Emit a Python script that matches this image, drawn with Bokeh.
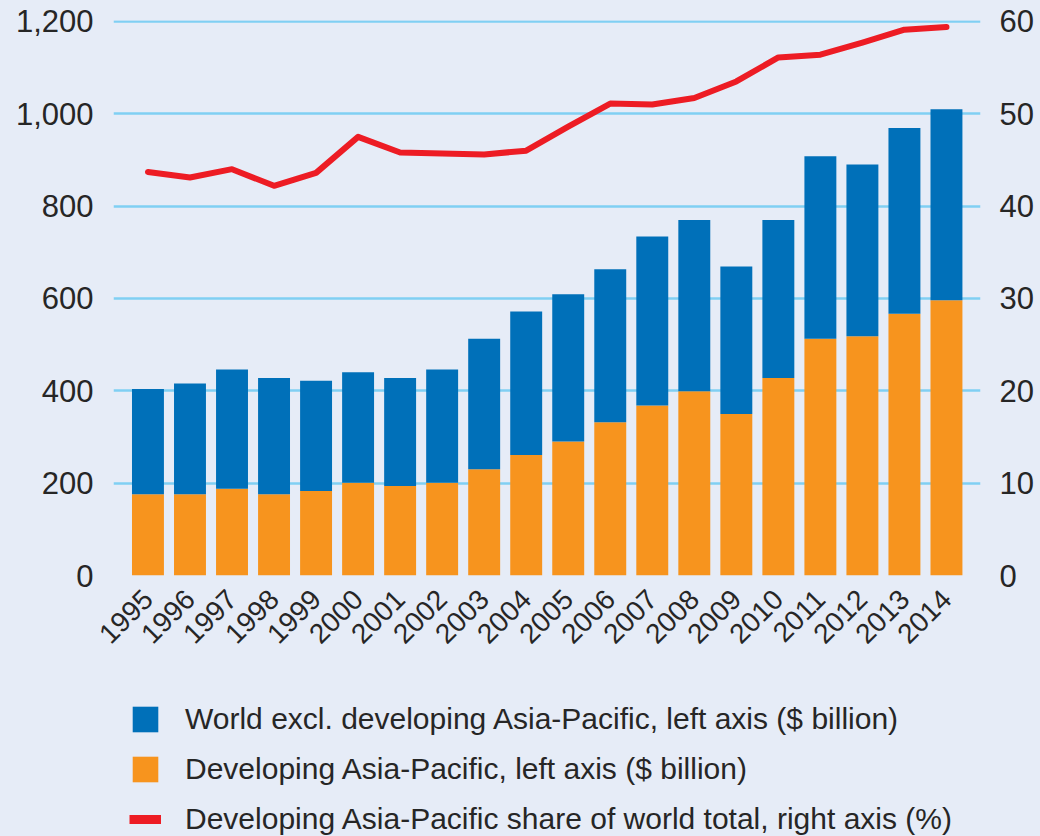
import math
from bokeh.plotting import figure
from bokeh.layouts import column
from bokeh.models import (ColumnDataSource, Range1d, LinearAxis, FixedTicker,
                          NumeralTickFormatter, Legend, LegendItem)
from bokeh.embed import file_html
from bokeh.resources import INLINE

# ---- data ----
years = [1995, 1996, 1997, 1998, 1999, 2000, 2001, 2002, 2003, 2004,
         2005, 2006, 2007, 2008, 2009, 2010, 2011, 2012, 2013, 2014]
year_labels = [str(y) for y in years]
developing = [176, 176, 188, 176, 183, 201, 194, 201, 230, 261,
              290, 332, 368, 399, 350, 428, 513, 518, 567, 596]
world_excl = [228, 240, 258, 252, 239, 239, 234, 245, 283, 311,
              319, 331, 366, 371, 319, 342, 395, 372, 402, 414]
share = [43.7, 43.1, 44.0, 42.2, 43.6, 47.5, 45.8, 45.7, 45.6, 46.0,
         48.6, 51.1, 51.0, 51.7, 53.5, 56.1, 56.4, 57.7, 59.1, 59.4]
left_ticks = [0, 200, 400, 600, 800, 1000, 1200]
right_ticks = [0, 10, 20, 30, 40, 50, 60]
series_labels = ["World excl. developing Asia-Pacific, left axis ($ billion)",
                 "Developing Asia-Pacific, left axis ($ billion)",
                 "Developing Asia-Pacific share of world total, right axis (%)"]

FONT = "Liberation Sans"
TEXT = "#262626"
BG = "#e6ecf7"
GRID = "#80cff3"
BLUE = "#0070b9"
ORANGE = "#f7941e"
RED = "#ed1c24"

src = ColumnDataSource(dict(year=years, developing=developing,
                            world_excl=world_excl, share=share))

# ---- main chart ----
p = figure(width=1040, height=686, output_backend="svg", toolbar_location=None,
           x_range=Range1d(1994.18, 2014.81), y_range=Range1d(0, 1202),
           min_border_left=113, min_border_right=60, min_border_top=20,
           min_border_bottom=111, background_fill_color=BG,
           border_fill_color=BG, outline_line_color=None)
p.extra_y_ranges = {"share": Range1d(0, 60.1)}

bars = p.vbar_stack(["developing", "world_excl"], x="year", width=0.76,
                    color=[ORANGE, BLUE], line_color=None, source=src)
line = p.line(x="year", y="share", source=src, y_range_name="share",
              line_color=RED, line_width=6, line_join="round", line_cap="round")

p.yaxis.ticker = FixedTicker(ticks=left_ticks)
p.yaxis.formatter = NumeralTickFormatter(format="0,0")
right = LinearAxis(y_range_name="share", ticker=FixedTicker(ticks=right_ticks))
p.add_layout(right, "right")
p.xaxis.ticker = FixedTicker(ticks=years)
p.xaxis.major_label_overrides = {y: s for y, s in zip(years, year_labels)}
p.xaxis.major_label_orientation = math.pi / 4

for ax in [p.yaxis[0], right, p.xaxis[0]]:
    ax.axis_line_color = None
    ax.major_tick_line_color = None
    ax.minor_tick_line_color = None
    ax.major_tick_out = 0
    ax.major_tick_in = 0
    ax.minor_tick_out = 0
    ax.minor_tick_in = 0
    ax.axis_label_standoff = 0
    ax.major_label_text_font = FONT
    ax.major_label_text_font_size = "31px"
    ax.major_label_text_color = TEXT
p.yaxis[0].major_label_standoff = 20
right.major_label_standoff = 19
p.xaxis[0].major_label_standoff = 19
p.xaxis[0].major_label_text_font_size = "28px"

p.xgrid.grid_line_color = None
p.ygrid.grid_line_color = GRID
p.ygrid.grid_line_width = 2.5

# ---- legend strip below the chart ----
# Its y range lies above all data values, so the series drawn here fall
# below the strip's frame and are clipped; only the legend swatches show.
lg = figure(width=1040, height=150, output_backend="svg", toolbar_location=None,
            x_range=Range1d(1994.18, 2014.81), y_range=Range1d(1300, 2500),
            min_border_left=113, min_border_right=60, min_border_top=0,
            min_border_bottom=0, background_fill_color=BG,
            border_fill_color=BG, outline_line_color=None)
lg.axis.visible = False
lg.grid.visible = False
sw_blue = lg.vbar(x="year", top="world_excl", width=0.76, color=BLUE,
                  line_color=None, source=src)
sw_orange = lg.vbar(x="year", top="developing", width=0.76, color=ORANGE,
                    line_color=None, source=src)
sw_red = lg.line(x="year", y="share", line_color=RED, line_width=9, source=src)

legend = Legend(items=[LegendItem(label=series_labels[0], renderers=[sw_blue]),
                       LegendItem(label=series_labels[1], renderers=[sw_orange]),
                       LegendItem(label=series_labels[2], renderers=[sw_red])],
                location="top_left", orientation="vertical",
                glyph_width=32, glyph_height=32, spacing=16, padding=0, margin=16,
                label_standoff=24, label_text_font=FONT,
                label_text_font_size="30px", label_text_color=TEXT,
                background_fill_alpha=0, border_line_color=None)
lg.add_layout(legend, "center")

layout = column(p, lg, spacing=0)

tmpl = "{% block preamble %}<style>html,body{background:" + BG + ";}</style>{% endblock %}"
try:
    html = file_html(layout, INLINE, template=tmpl)
except Exception:
    html = file_html(layout, INLINE)
open("out.html", "w").write(html)
